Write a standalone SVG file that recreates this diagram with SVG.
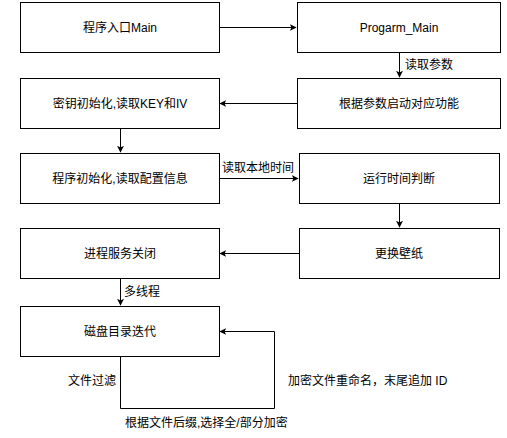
<svg xmlns="http://www.w3.org/2000/svg" width="507" height="438" viewBox="0 0 507 438">
<defs>
<style>
.box{fill:#fff;stroke:#000;stroke-width:1}
.t{font-family:"Liberation Sans","Noto Sans CJK SC",sans-serif;font-size:12px;fill:#000;text-anchor:middle;dominant-baseline:central}
.l{font-family:"Liberation Sans","Noto Sans CJK SC",sans-serif;font-size:12px;fill:#000;dominant-baseline:central}
.c{fill:none;stroke:#000;stroke-width:1}
</style>
<marker id="a" viewBox="0 0 10 10" refX="9" refY="5" markerWidth="7" markerHeight="7" orient="auto" markerUnits="userSpaceOnUse">
<path d="M0,0 L10,5 L0,10 L2.5,5 Z" fill="#000"/>
</marker>
</defs>
<rect width="507" height="438" fill="#fff"/>
<g id="connectors">
<path class="c" d="M219.5,27.5 H296" marker-end="url(#a)"/>
<path class="c" d="M399.5,52.5 V77" marker-end="url(#a)"/>
<path class="c" d="M297.5,103.5 H220" marker-end="url(#a)"/>
<path class="c" d="M120.5,128.5 V152" marker-end="url(#a)"/>
<path class="c" d="M219.5,178.5 H298" marker-end="url(#a)"/>
<path class="c" d="M399.5,203.5 V227" marker-end="url(#a)"/>
<path class="c" d="M299.5,253.5 H220" marker-end="url(#a)"/>
<path class="c" d="M120.5,278.5 V305" marker-end="url(#a)"/>
<path class="c" d="M120.5,356.5 V408.5 H274.5 V331.5 H220" marker-end="url(#a)"/>
<text class="l" x="405" y="65">读取参数</text>
<text class="l" x="222" y="168">读取本地时间</text>
<text class="l" x="124" y="292">多线程</text>
<text class="l" x="68" y="381">文件过滤</text>
<text class="l" x="288" y="381">加密文件重命名，末尾追加 ID</text>
<text class="l" x="125" y="423">根据文件后缀,选择全/部分加密</text>
</g>
<g id="n1"><rect class="box" x="20.5" y="2.5" width="199" height="50"/><text class="t" x="120" y="27.5">程序入口Main</text></g>
<g id="n2"><rect class="box" x="297.5" y="2.5" width="203" height="50"/><text class="t" x="399" y="27.5">Progarm_Main</text></g>
<g id="n3"><rect class="box" x="297.5" y="78.5" width="203" height="50"/><text class="t" x="399" y="103.5">根据参数启动对应功能</text></g>
<g id="n4"><rect class="box" x="20.5" y="78.5" width="199" height="50"/><text class="t" x="120" y="103.5">密钥初始化,读取KEY和IV</text></g>
<g id="n5"><rect class="box" x="20.5" y="153.5" width="199" height="50"/><text class="t" x="120" y="178.5">程序初始化,读取配置信息</text></g>
<g id="n6"><rect class="box" x="299.5" y="153.5" width="200" height="50"/><text class="t" x="399" y="178.5">运行时间判断</text></g>
<g id="n7"><rect class="box" x="299.5" y="228.5" width="200" height="50"/><text class="t" x="399" y="253.5">更换壁纸</text></g>
<g id="n8"><rect class="box" x="20.5" y="228.5" width="199" height="50"/><text class="t" x="120" y="253.5">进程服务关闭</text></g>
<g id="n9"><rect class="box" x="20.5" y="306.5" width="199" height="50"/><text class="t" x="120" y="331.5">磁盘目录迭代</text></g>
</svg>
